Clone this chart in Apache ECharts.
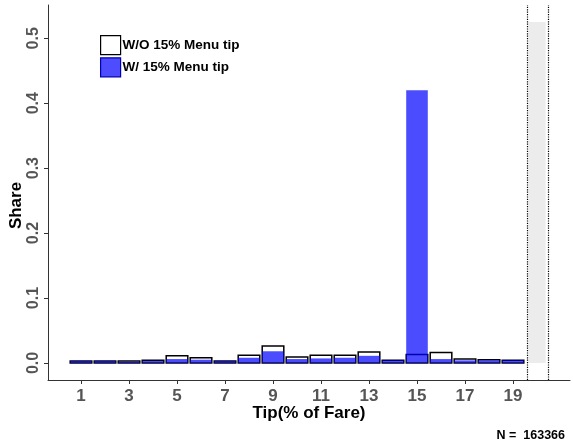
<!DOCTYPE html>
<html>
<head>
<meta charset="utf-8">
<script src="https://cdn.jsdelivr.net/npm/echarts@6/dist/echarts.min.js"></script>
<style>
  html, body { margin: 0; padding: 0; background: #fff; }
  #chart { width: 573px; height: 448px; }
</style>
</head>
<body>
<div id="chart"></div>
<script>
// Tip percentage categories (1..19) and share of rides at each tip level
const tipLevels = [1, 2, 3, 4, 5, 6, 7, 8, 9, 10, 11, 12, 13, 14, 15, 16, 17, 18, 19];
const shareWithout = [0.003, 0.003, 0.003, 0.004, 0.011, 0.008, 0.003, 0.012, 0.026, 0.009,
                      0.012, 0.012, 0.017, 0.004, 0.013, 0.016, 0.006, 0.005, 0.004];
const shareWith = [0.003, 0.003, 0.002, 0.003, 0.006, 0.005, 0.003, 0.008, 0.018, 0.006,
                   0.007, 0.008, 0.011, 0.004, 0.42, 0.006, 0.004, 0.004, 0.004];
// Shaded column beyond 19%
const otherLevel = [20];
const otherShare = [0.525];
const otherBounds = [19.6, 20.45];
const xTicks = [1, 3, 5, 7, 9, 11, 13, 15, 17, 19];
const yTicks = [0, 0.1, 0.2, 0.3, 0.4, 0.5];
const sampleSize = '163366';

const FONT = 'Liberation Sans, Arial, Helvetica, sans-serif';

function rectItem(width) {
  return function (params, api) {
    const x = api.value(0);
    const y = api.value(1);
    const a = api.coord([x - width / 2, y]);
    const b = api.coord([x + width / 2, 0]);
    return {
      type: 'rect',
      shape: { x: a[0], y: a[1], width: b[0] - a[0], height: b[1] - a[1] },
      style: api.style()
    };
  };
}

const chart = echarts.init(document.getElementById('chart'), null, { renderer: 'canvas' });

chart.setOption({
  animation: false,
  backgroundColor: '#fff',
  textStyle: { fontFamily: FONT },
  grid: { left: 48, right: 3, top: 5, bottom: 68, containLabel: false, outerBoundsMode: 'none' },
  legend: {
    orient: 'vertical',
    left: 100,
    top: 35,
    padding: 0,
    itemWidth: 20,
    itemHeight: 19,
    itemGap: 2,
    icon: 'rect',
    selectedMode: false,
    textStyle: { fontFamily: FONT, fontWeight: 'bold', fontSize: 13.5, color: '#000', padding: [0, 0, 0, -3] },
    data: [
      { name: 'W/O 15% Menu tip', itemStyle: { color: '#fff', borderColor: '#000', borderWidth: 1.2 } },
      { name: 'W/ 15% Menu tip', itemStyle: { color: '#4d4dff', borderColor: '#0000b3', borderWidth: 1.2 } }
    ]
  },
  xAxis: {
    type: 'value',
    min: -0.375,
    max: 21.375,
    name: 'Tip(% of Fare)',
    nameLocation: 'middle',
    nameGap: 25,
    nameMoveOverlap: false,
    nameTextStyle: { fontFamily: FONT, fontWeight: 'bold', fontSize: 17, color: '#000' },
    splitLine: { show: false },
    axisLine: { show: true, onZero: false, lineStyle: { color: '#333', width: 1 } },
    axisTick: { show: true, length: 4, customValues: xTicks, lineStyle: { color: '#333' } },
    axisLabel: {
      customValues: xTicks,
      margin: 8,
      fontFamily: FONT, fontWeight: 'bold', fontSize: 17, color: '#555'
    }
  },
  yAxis: {
    type: 'value',
    min: -0.02625,
    max: 0.55125,
    name: 'Share',
    nameLocation: 'middle',
    nameGap: 23,
    nameMoveOverlap: false,
    nameRotate: 90,
    nameTextStyle: { fontFamily: FONT, fontWeight: 'bold', fontSize: 17, color: '#000', padding: [0, 26, 0, 0] },
    splitLine: { show: false },
    axisLine: { show: true, onZero: false, lineStyle: { color: '#333', width: 1 } },
    axisTick: { show: true, length: 4, customValues: yTicks, lineStyle: { color: '#333' } },
    axisLabel: {
      customValues: yTicks,
      rotate: 90,
      margin: 6,
      fontFamily: FONT, fontWeight: 'bold', fontSize: 16, color: '#555',
      formatter: v => v.toFixed(1)
    }
  },
  graphic: [{
    type: 'text',
    right: 8,
    bottom: 6,
    style: { text: 'N =  ' + sampleSize, font: 'bold 12.5px ' + FONT, fill: '#000' }
  }],
  series: [
    {
      name: 'Other',
      type: 'custom',
      renderItem: rectItem(0.72),
      itemStyle: { color: '#ececec' },
      data: otherLevel.map((x, i) => [x, otherShare[i]]),
      z: 1,
      markLine: {
        silent: true,
        symbol: 'none',
        label: { show: false },
        lineStyle: { type: 'dotted', color: '#000', width: 1.2 },
        data: otherBounds.map(v => ({ xAxis: v }))
      }
    },
    {
      name: 'W/O 15% Menu tip',
      type: 'custom',
      renderItem: rectItem(0.9),
      itemStyle: { color: '#fff', borderColor: '#000', borderWidth: 1.5 },
      data: tipLevels.map((x, i) => [x, shareWithout[i]]),
      z: 2
    },
    {
      name: 'W/ 15% Menu tip',
      type: 'custom',
      renderItem: rectItem(0.9),
      itemStyle: { color: 'rgba(0,0,255,0.7)' },
      data: tipLevels.map((x, i) => [x, shareWith[i]]),
      z: 3
    }
  ]
});
</script>
</body>
</html>
